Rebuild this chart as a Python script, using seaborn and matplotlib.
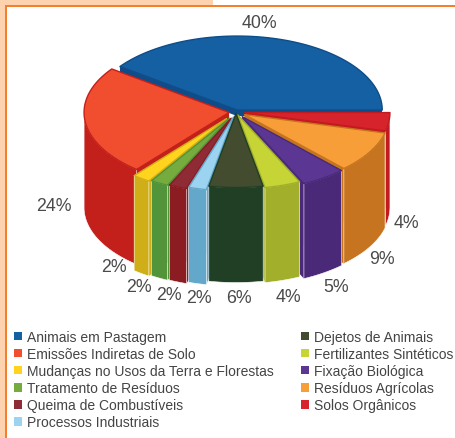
import numpy as np
import matplotlib
matplotlib.use("Agg")
import matplotlib.pyplot as plt
from matplotlib.patches import Polygon, Rectangle, Patch
import seaborn as sns

categories = ["Animais em Pastagem", "Emissões Indiretas de Solo",
              "Mudanças no Usos da Terra e Florestas", "Tratamento de Resíduos",
              "Queima de Combustíveis", "Processos Industriais", "Dejetos de Animais",
              "Fertilizantes Sintéticos", "Fixação Biológica", "Resíduos Agrícolas",
              "Solos Orgânicos"]
values = [40, 24, 2, 2, 2, 2, 6, 4, 5, 9, 4]
top_colors = ["#1560A3", "#F04E2E", "#FFD31E", "#76AC3E", "#8E2B35", "#9CD3F0",
              "#434C2E", "#C6D436", "#5B3793", "#F79E38", "#D7232B"]
wall_colors = ["#0F4C88", "#C4201B", "#D0AE17", "#52943A", "#8A1C22", "#63A8CB",
               "#213F24", "#A1AF2B", "#4A2A78", "#C6741F", "#C21A1E"]
# Layout (pixels of the figure), kept apart from the data
CX, CY, RX, RY, DEPTH, BACK_BEVEL = 236, 113, 145, 74, 95, 6
EXPLODE = [4, 7, 16, 14, 13, 10, 3, 6, 11, 10, 9]
LABEL_POS = [(259, 24), (54, 207), (114, 268), (139, 288), (169, 296), (199, 299),
             (239, 299), (288, 298), (336, 288), (382, 260), (406, 224)]

sns.set_theme(style="white")
plt.rcParams["font.family"] = ["Liberation Sans", "DejaVu Sans"]

fig = plt.figure(figsize=(4.56, 4.39), dpi=100)
ax = fig.add_axes([0, 0, 1, 1])
ax.set_xlim(0, 456)
ax.set_ylim(439, 0)
ax.set_axis_off()
sns.despine(ax=ax, left=True, bottom=True)

# page frame
ax.add_patch(Rectangle((0, 0), 6, 439, color="#FDD2AE", lw=0, zorder=0))
ax.add_patch(Rectangle((0, 0), 213, 6, color="#FDD2AE", lw=0, zorder=0))
ax.add_patch(Rectangle((5.5, 6), 2, 433, color="#F57F2C", lw=0, zorder=1))
ax.add_patch(Rectangle((5.5, 6), 451, 2, color="#F57F2C", lw=0, zorder=1))

edges = np.cumsum([0] + values) * 3.6
mids = (edges[:-1] + edges[1:]) / 2
order = np.argsort(-np.sin(np.radians(mids)))

for z, i in enumerate(order):
    a0, a1, mid = edges[i], edges[i + 1], np.radians(mids[i])
    ox = EXPLODE[i] * np.cos(mid)
    oy = -EXPLODE[i] * RY / RX * np.sin(mid)
    apex = np.array([CX + ox, CY + oy])
    ang = np.radians(np.linspace(a0, a1, 90))
    arc = np.column_stack([apex[0] + RX * np.cos(ang), apex[1] - RY * np.sin(ang)])
    base = 10 + z * 3
    # radial faces (the back slice only shows a thin bevel)
    depth = BACK_BEVEL if values[i] == max(values) else DEPTH
    down = np.array([0, depth])
    for end in (arc[0], arc[-1]):
        ax.add_patch(Polygon([apex, end, end + down, apex + down], closed=True,
                             fc=wall_colors[i], ec="none", zorder=base))
    # outer wall: only the part facing the viewer
    front = np.sin(ang) <= 0
    if front.sum() > 1:
        w = arc[front]
        ax.add_patch(Polygon(np.vstack([w, (w + down)[::-1]]), closed=True,
                             fc=wall_colors[i], ec="white", lw=0.4, zorder=base + 1))
    # top face
    ax.add_patch(Polygon(np.vstack([apex, arc]), closed=True, fc=top_colors[i],
                         ec=wall_colors[i], lw=1.0, joinstyle="round", zorder=base + 2))

for (x, y), v in zip(LABEL_POS, values):
    ax.text(x, y, f"{v}%", ha="center", va="center", fontsize=12.8,
            color="#4A4A4A", zorder=100)

handles = [Patch(fc=c, ec="none", label=n) for c, n in zip(top_colors, categories)]
ax.legend(handles=handles, ncol=2, loc="upper left", bbox_to_anchor=(11 / 456, 1 - 328 / 439),
          frameon=False, fontsize=10, labelcolor="#444444", handlelength=0.58,
          handleheight=0.58, handletextpad=0.36, columnspacing=1.94,
          labelspacing=0.225, borderpad=0.2, borderaxespad=0)

fig.savefig("out.png", dpi=100)
